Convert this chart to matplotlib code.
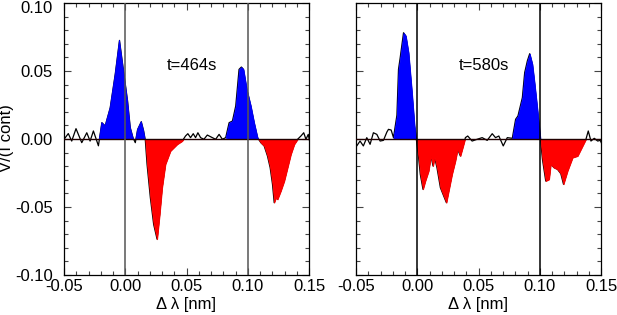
import numpy as np
import matplotlib.pyplot as plt
import matplotlib.transforms as mtransforms
from matplotlib.ticker import MultipleLocator, FormatStrFormatter

plt.rcParams['font.family'] = ['Liberation Sans', 'DejaVu Sans']

# Stokes V / I_cont profiles
x_464 = [-0.0500, -0.0492, -0.0465, -0.0437, -0.0402, -0.0355, -0.0314, -0.0287, -0.0260,
         -0.0219, -0.0191, -0.0164, -0.0123, -0.0082, -0.0047, -0.0014, 0.0019, 0.0041,
         0.0063, 0.0082, 0.0101, 0.0131, 0.0150, 0.0164, 0.0178, 0.0205, 0.0232, 0.0260,
         0.0281, 0.0301, 0.0328, 0.0369, 0.0424, 0.0465, 0.0492, 0.0511, 0.0533, 0.0555,
         0.0574, 0.0593, 0.0615, 0.0642, 0.0670, 0.0711, 0.0738, 0.0766, 0.0793, 0.0820,
         0.0848, 0.0875, 0.0902, 0.0929, 0.0948, 0.0965, 0.0992, 0.1025, 0.1052, 0.1080,
         0.1107, 0.1134, 0.1161, 0.1183, 0.1202, 0.1216, 0.1230, 0.1243, 0.1270, 0.1298,
         0.1325, 0.1352, 0.1380, 0.1407, 0.1434, 0.1457, 0.1475, 0.1494, 0.1510]
v_464 = [-0.0002, 0.0007, 0.0040, -0.0015, 0.0076, -0.0027, 0.0046, -0.0015, 0.0059,
         -0.0050, 0.0120, 0.0096, 0.0229, 0.0475, 0.0725, 0.0500, 0.0279, 0.0083,
         0.0010, -0.0027, 0.0070, 0.0127, 0.0060, -0.0010, -0.0186, -0.0432, -0.0628, -0.0737,
         -0.0554, -0.0358, -0.0186, -0.0088, -0.0039, -0.0015, 0.0022, 0.0039, 0.0010, 0.0039,
         0.0010, 0.0046, 0.0010, -0.0002, 0.0029, 0.0010, -0.0002, 0.0034, -0.0002, 0.0010,
         0.0120, 0.0132, 0.0243, 0.0512, 0.0529, 0.0512, 0.0365, 0.0243, 0.0120, 0.0010,
         -0.0027, -0.0051, -0.0125, -0.0211, -0.0333, -0.0468, -0.0432, -0.0444, -0.0382, -0.0309,
         -0.0211, -0.0113, -0.0039, -0.0002, 0.0022, 0.0046, -0.0002, 0.0034, -0.0039]
# wavelength ranges of the shaded lobes
blue_464 = [(-0.0200, 0.0160), (0.0830, 0.1085)]
red_464 = [(0.0160, 0.0480), (0.1085, 0.1410)]

x_580 = [-0.0500, -0.0494, -0.0467, -0.0440, -0.0412, -0.0385, -0.0358, -0.0330, -0.0303,
         -0.0276, -0.0248, -0.0235, -0.0213, -0.0194, -0.0166, -0.0153, -0.0139, -0.0112,
         -0.0093, -0.0071, -0.0043, -0.0022, -0.0008, 0.0011, 0.0025, 0.0047, 0.0066,
         0.0093, 0.0112, 0.0129, 0.0142, 0.0161, 0.0189, 0.0216, 0.0238, 0.0257, 0.0284,
         0.0311, 0.0330, 0.0352, 0.0375, 0.0393, 0.0412, 0.0448, 0.0489, 0.0530, 0.0571,
         0.0612, 0.0639, 0.0666, 0.0702, 0.0735, 0.0776, 0.0803, 0.0822, 0.0858, 0.0877,
         0.0899, 0.0918, 0.0940, 0.0959, 0.0981, 0.1002, 0.1022, 0.1049, 0.1076, 0.1090,
         0.1117, 0.1145, 0.1172, 0.1194, 0.1227, 0.1268, 0.1309, 0.1350, 0.1377, 0.1396,
         0.1418, 0.1445, 0.1473, 0.1494, 0.1514]
v_580 = [-0.0030, -0.0051, -0.0015, -0.0051, 0.0010, -0.0039, 0.0046, 0.0034, -0.0015,
         -0.0010, 0.0051, 0.0071, 0.0066, 0.0010, 0.0175, 0.0512, 0.0599, 0.0781,
         0.0757, 0.0634, 0.0340, 0.0096, 0.0002, -0.0137, -0.0260, -0.0370, -0.0309,
         -0.0235, -0.0125, -0.0199, -0.0137, -0.0211, -0.0358, -0.0419, -0.0468, -0.0382, -0.0260,
         -0.0162, -0.0076, -0.0125, -0.0051, 0.0010, 0.0022, -0.0015, -0.0002, 0.0010, -0.0010,
         0.0039, 0.0010, 0.0022, -0.0051, 0.0010, 0.0005, 0.0145, 0.0169, 0.0304, 0.0488,
         0.0575, 0.0627, 0.0549, 0.0402, 0.0218, 0.0034, -0.0149, -0.0309, -0.0297, -0.0186,
         -0.0211, -0.0223, -0.0255, -0.0333, -0.0235, -0.0137, -0.0125, -0.0051, -0.0002, 0.0059,
         -0.0015, 0.0005, -0.0015, -0.0010, -0.0051]
blue_580 = [(-0.0200, 0.0000), (0.0780, 0.1010)]
red_580 = [(0.0000, 0.0395), (0.1010, 0.1380)]

labels = ["t=464s", "t=580s"]
line_positions = [0.0, 0.1]


def shade(ax, x, v, ranges, sign, color):
    for lo, hi in ranges:
        mask = (x >= lo) & (x <= hi)
        mask = mask & ((v > 0) if sign > 0 else (v < 0))
        ax.fill_between(x, v, 0, where=mask, interpolate=True, color=color,
                        lw=0.6, edgecolor=color, zorder=3)


def panel(ax, x, v, blue, red, label, vcolor, ylabels):
    x = np.array(x)
    v = np.array(v)
    ax.plot(x, v, color='black', lw=0.9, zorder=2)
    shade(ax, x, v, blue, 1, '#0000ff')
    shade(ax, x, v, red, -1, '#ff0000')
    ax.axhline(0, color='#200000', lw=1.0, zorder=4)
    for lp in line_positions:
        ax.axvline(lp, color=vcolor, lw=1.1, zorder=4)
    ax.text(0.0545, 0.054, label, ha='center', va='center', fontsize=12)

    ax.set_xlim(-0.05, 0.15)
    ax.set_ylim(-0.10, 0.10)
    ax.xaxis.set_major_locator(MultipleLocator(0.05))
    ax.xaxis.set_minor_locator(MultipleLocator(0.01))
    ax.yaxis.set_major_locator(MultipleLocator(0.05))
    ax.yaxis.set_minor_locator(MultipleLocator(0.01))
    ax.xaxis.set_major_formatter(FormatStrFormatter('%.2f'))
    ax.yaxis.set_major_formatter(FormatStrFormatter('%.2f'))
    ax.tick_params(which='both', direction='in', top=True, right=True, labelsize=12,
                   width=0.8, color='#444444')
    ax.tick_params(which='major', length=5)
    ax.tick_params(which='minor', length=3)
    ax.tick_params(axis='x', pad=3)
    ax.tick_params(axis='y', pad=8)
    if not ylabels:
        ax.tick_params(axis='y', labelleft=False)
    ax.set_xlabel('Δ λ [nm]', fontsize=12, labelpad=2)
    for s in ax.spines.values():
        s.set_linewidth(0.9)


fig = plt.figure(figsize=(6.17, 3.15), dpi=100)
ax1 = fig.add_axes([64 / 617, 1 - 275 / 315, 245 / 617, 272 / 315])
ax2 = fig.add_axes([356 / 617, 1 - 275 / 315, 245 / 617, 272 / 315])

panel(ax1, x_464, v_464, blue_464, red_464, labels[0], '#555555', True)
panel(ax2, x_580, v_580, blue_580, red_580, labels[1], 'black', False)

# the top y tick label sits a little below its tick so it stays inside the figure
fig.canvas.draw()
shift = mtransforms.ScaledTranslation(0, -3 / 72, fig.dpi_scale_trans)
for lab in ax1.get_yticklabels():
    if lab.get_text() == '0.10':
        lab.set_transform(lab.get_transform() + shift)

fig.text(7 / 617, 1 - 138 / 315, 'V/(I cont)', rotation=90, ha='center', va='center',
         fontsize=12)

fig.savefig('out.png', dpi=100)
